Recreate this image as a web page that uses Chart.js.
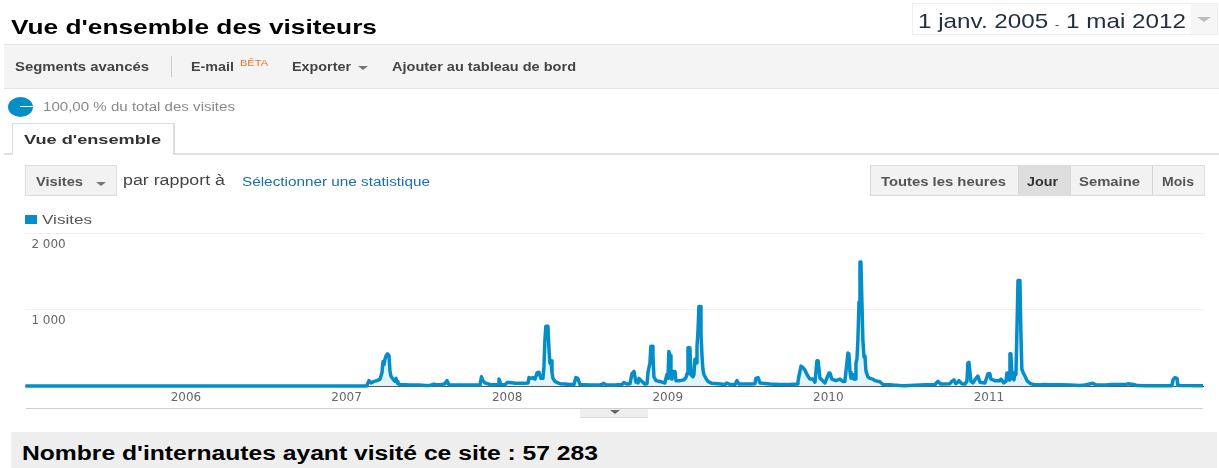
<!DOCTYPE html>
<html lang="fr">
<head>
<meta charset="utf-8">
<title>Vue d'ensemble des visiteurs</title>
<style>
html,body{margin:0;padding:0;background:#fff;width:1219px;height:468px;overflow:hidden;font-family:"Liberation Sans",Arial,sans-serif}
.b{position:absolute;box-sizing:border-box}
.t{position:absolute;white-space:nowrap;transform-origin:0 50%;line-height:1;transform:translateY(-50%)}
.bold{font-weight:bold}
.tri{position:absolute;width:0;height:0;border-left:5px solid transparent;border-right:5px solid transparent;border-top:4px solid #777}
canvas{position:absolute;left:0;top:0}
</style>
</head>
<body>
<div class="b" style="left:912px;top:3px;width:306px;height:32px;border:1px solid #eee"></div>
<div class="b" style="left:1191px;top:4px;width:26px;height:30px;background:#f6f6f6"></div>
<div class="tri" style="left:1197px;top:17px;border-left-width:7px;border-right-width:7px;border-top:5px solid #bbb"></div>

<div class="b" style="left:4px;top:44px;width:1215px;height:45px;background:#f4f4f4;border-top:1px solid #e4e4e4;border-bottom:1px solid #e4e4e4"></div>
<div class="b" style="left:171px;top:56px;width:1px;height:21px;background:#ccc"></div>
<div class="tri" style="left:358px;top:66px;border-top-color:#777"></div>

<div class="b" style="left:8px;top:97px;width:25px;height:20px;border-radius:50%;background:#058dc7"></div>
<div class="b" style="left:20px;top:106px;width:13px;height:1px;background:#fff"></div>

<div class="b" style="left:4px;top:153px;width:1215px;height:2px;background:#e0e0e0"></div>
<div class="b" style="left:12px;top:123px;width:163px;height:32px;background:#fff;border:1px solid #ddd;border-bottom:none;border-width:1px 2px 0 1px"></div>

<div class="b" style="left:25px;top:165px;width:92px;height:31px;background:#f2f2f2;border:1px solid #ddd"></div>
<div class="tri" style="left:96px;top:182px"></div>

<div class="b" style="left:870px;top:165px;width:335px;height:31px;background:#f2f2f2;border:1px solid #ddd"></div>
<div class="b" style="left:1018px;top:166px;width:52px;height:29px;background:#dedede"></div>
<div class="b" style="left:1018px;top:166px;width:1px;height:29px;background:#d6d6d6"></div>
<div class="b" style="left:1070px;top:166px;width:1px;height:29px;background:#d6d6d6"></div>
<div class="b" style="left:1152px;top:166px;width:1px;height:29px;background:#d6d6d6"></div>

<div class="b" style="left:25px;top:215px;width:12px;height:9px;background:#058dc7"></div>

<canvas id="chart" width="1219" height="468"></canvas>

<div class="b" style="left:26px;top:408px;width:1177px;height:1px;background:#d0d0d0"></div>
<div class="b" style="left:580px;top:409px;width:68px;height:9px;background:#eee;border-bottom:1px solid #ddd"></div>
<div class="tri" style="left:610px;top:410px;border-top-color:#666"></div>
<div class="b" style="left:11px;top:432px;width:1206px;height:36px;background:#eee"></div>

<span class="t bold" data-w="366" style="left:11px;top:26px;font-size:21px;color:#000">Vue d'ensemble des visiteurs</span>
<span class="t" data-w="268" style="left:918px;top:20px;font-size:21px;color:#1f2f3f">1 janv. 2005 <span style="font-size:11px">-</span> 1 mai 2012</span>
<span class="t bold" data-w="134" style="left:15px;top:67px;font-size:12px;color:#444">Segments avancés</span>
<span class="t bold" data-w="43" style="left:191px;top:67px;font-size:12px;color:#444">E-mail</span>
<span class="t" data-w="28" style="left:240px;top:63px;font-size:9px;color:#e8761f">BÊTA</span>
<span class="t bold" data-w="59" style="left:292px;top:67px;font-size:12px;color:#444">Exporter</span>
<span class="t bold" data-w="184" style="left:392px;top:67px;font-size:12px;color:#444">Ajouter au tableau de bord</span>
<span class="t" data-w="192" style="left:43px;top:107px;font-size:12px;color:#888">100,00 % du total des visites</span>
<span class="t bold" data-w="137" style="left:24px;top:139px;font-size:13px;color:#333">Vue d'ensemble</span>
<span class="t bold" data-w="47" style="left:36px;top:182px;font-size:12px;color:#555">Visites</span>
<span class="t" data-w="102" style="left:123px;top:180px;font-size:14px;color:#444">par rapport à</span>
<span class="t" data-w="188" style="left:242px;top:182px;font-size:12px;color:#1a6fa8">Sélectionner une statistique</span>
<span class="t bold" data-w="125" style="left:881px;top:182px;font-size:12px;color:#555">Toutes les heures</span>
<span class="t bold" data-w="31" style="left:1027px;top:182px;font-size:12px;color:#333">Jour</span>
<span class="t bold" data-w="61" style="left:1079px;top:182px;font-size:12px;color:#555">Semaine</span>
<span class="t bold" data-w="32" style="left:1162px;top:182px;font-size:12px;color:#555">Mois</span>
<span class="t" data-w="50" style="left:42px;top:219px;font-size:13px;color:#555">Visites</span>
<span class="t bold" data-w="576" style="left:22px;top:453px;font-size:20px;color:#000">Nombre d'internautes ayant visité ce site : 57 283</span>

<script src="https://cdn.jsdelivr.net/npm/chart.js@4/dist/chart.umd.min.js"></script>
<script>
const seriesName = "Visites";
const axisStartYear = 2005;
const axisEndYear = 2012.333;
const yAxisMax = 2000;
const yAxisStep = 1000;

const visitYears = [
2005.0,2007.125,2007.139,2007.152,2007.171,2007.189,2007.208,2007.220,2007.227,2007.233,2007.239,2007.245,2007.255,2007.264,2007.270,2007.276,2007.289,2007.301,2007.308,2007.314,2007.320,2007.333,2007.395,2007.457,2007.488,2007.519,2007.544,2007.557,2007.582,2007.613,2007.625,2007.638,2007.706,2007.768,2007.831,2007.840,2007.849,2007.862,2007.893,2007.924,2007.943,2007.949,2007.961,2007.986,
2008.0,2008.017,2008.049,2008.080,2008.111,2008.130,2008.136,2008.148,2008.160,2008.173,2008.186,2008.198,2008.210,2008.223,2008.229,2008.235,2008.241,2008.254,2008.260,2008.266,2008.273,2008.279,2008.285,2008.298,2008.316,2008.329,2008.360,2008.391,2008.416,2008.428,2008.440,2008.453,2008.516,2008.578,2008.602,2008.615,2008.671,2008.715,2008.727,2008.746,2008.765,2008.777,2008.790,2008.802,2008.815,2008.821,2008.839,2008.858,2008.871,2008.877,2008.889,2008.895,2008.902,2008.908,2008.914,2008.927,2008.951,2008.964,2008.982,2008.995,
2009.001,2009.007,2009.014,2009.020,2009.026,2009.032,2009.045,2009.051,2009.076,2009.101,2009.113,2009.120,2009.126,2009.138,2009.144,2009.157,2009.163,2009.169,2009.176,2009.182,2009.188,2009.194,2009.201,2009.207,2009.213,2009.219,2009.225,2009.238,2009.250,2009.275,2009.313,2009.356,2009.369,2009.388,2009.419,2009.431,2009.444,2009.481,2009.512,2009.543,2009.549,2009.562,2009.574,2009.636,2009.699,2009.761,2009.805,2009.811,2009.817,2009.830,2009.842,2009.854,2009.867,2009.885,2009.904,2009.917,2009.929,2009.936,2009.948,2009.960,2009.979,
2010.004,2010.010,2010.022,2010.047,2010.072,2010.091,2010.103,2010.122,2010.128,2010.135,2010.141,2010.147,2010.153,2010.159,2010.166,2010.172,2010.178,2010.184,2010.191,2010.197,2010.203,2010.209,2010.215,2010.222,2010.228,2010.234,2010.246,2010.259,2010.277,2010.290,2010.321,2010.340,2010.384,2010.415,2010.446,2010.477,2010.539,2010.602,2010.664,2010.682,2010.701,2010.757,2010.769,2010.782,2010.794,2010.807,2010.813,2010.832,2010.850,2010.863,2010.869,2010.875,2010.888,2010.900,2010.919,2010.931,2010.944,2010.975,2010.994,
2011.006,2011.012,2011.037,2011.068,2011.075,2011.093,2011.106,2011.112,2011.118,2011.125,2011.131,2011.137,2011.143,2011.156,2011.162,2011.168,2011.174,2011.181,2011.193,2011.199,2011.205,2011.212,2011.224,2011.237,2011.255,2011.286,2011.317,2011.349,2011.380,2011.442,2011.504,2011.566,2011.598,2011.647,2011.666,2011.722,2011.753,2011.815,2011.846,2011.865,2011.877,2011.908,2011.921,2011.971,
2012.139,2012.146,2012.158,2012.171,2012.177,2012.333
];

const visitValues = [
0,0,70,40,60,70,90,170,320,280,350,390,420,400,200,130,90,60,100,60,30,20,12,12,8,8,25,15,15,30,70,15,12,12,12,120,70,40,20,15,20,90,20,15,
45,45,35,35,35,40,110,100,110,90,170,180,100,100,250,600,780,780,500,300,330,180,100,60,40,30,25,20,20,110,100,20,12,12,35,15,12,20,45,25,30,160,190,50,40,100,60,25,30,180,300,520,520,400,120,70,60,50,40,150,
100,450,400,100,90,190,190,70,70,80,110,160,500,500,150,120,150,350,300,520,700,1040,1040,700,400,220,150,100,60,35,30,20,40,20,20,70,25,25,25,30,100,110,40,25,20,20,25,60,130,260,240,210,150,90,90,50,330,330,100,80,40,
170,170,90,70,90,60,60,430,420,180,100,130,150,90,90,300,350,600,1100,1620,1620,1100,600,380,390,200,120,100,90,70,55,20,15,10,5,3,10,15,20,60,25,30,60,80,30,50,70,30,25,60,300,310,60,40,100,130,50,40,160,
160,90,70,70,90,40,60,170,170,80,420,420,120,80,180,150,700,1380,1380,700,220,180,130,70,35,15,15,18,15,15,12,8,12,35,15,12,18,20,18,28,25,15,5,3,
3,80,110,100,5,2
];

function fmtThousands(v){
  return String(v).replace(/\B(?=(\d{3})+(?!\d))/g, " ");
}

new Chart(document.getElementById("chart"), {
  type: "line",
  data: {
    datasets: [{
      label: seriesName,
      data: visitYears.map((x, i) => ({ x: x, y: visitValues[i] })),
      borderColor: "#058dc7",
      backgroundColor: "#e4f3fa",
      borderWidth: 3.5,
      borderJoinStyle: "round",
      fill: "origin",
      pointRadius: 0,
      tension: 0,
      clip: false
    }]
  },
  options: {
    responsive: false,
    animation: false,
    parsing: false,
    normalized: true,
    layout: { padding: { left: 25.4, right: 16, top: 233, bottom: 0 } },
    plugins: { legend: { display: false }, title: { display: false }, tooltip: { enabled: false } },
    scales: {
      x: {
        type: "linear",
        min: axisStartYear,
        max: axisEndYear,
        z: 1,
        afterFit(scale) { scale.height = 82; },
        afterBuildTicks(scale) {
          scale.ticks = scale.ticks.filter(t => Number.isInteger(t.value) && t.value > axisStartYear);
        },
        grid: { display: false, drawTicks: false },
        border: { display: true, color: "#555", width: 1 },
        ticks: {
          stepSize: 1,
          autoSkip: false,
          maxRotation: 0,
          padding: 5,
          color: "#666",
          font: { family: '"DejaVu Sans"', size: 12 },
          callback: v => String(v)
        }
      },
      y: {
        min: 0,
        max: yAxisMax,
        afterFit(scale) { scale.width = 0; },
        border: { display: false },
        grid: { color: "#f0f0f0", lineWidth: 1, drawTicks: false },
        ticks: {
          stepSize: yAxisStep,
          mirror: true,
          padding: 6,
          labelOffset: 11.5,
          z: 1,
          color: "#666",
          font: { family: '"DejaVu Sans"', size: 12 },
          callback: v => v === 0 ? "" : fmtThousands(v)
        }
      }
    }
  }
});

document.querySelectorAll(".t[data-w]").forEach(el => {
  const w = el.getBoundingClientRect().width;
  el.style.transform = "translateY(-50%) scaleX(" + (parseFloat(el.dataset.w) / w) + ")";
});
</script>
</body>
</html>
